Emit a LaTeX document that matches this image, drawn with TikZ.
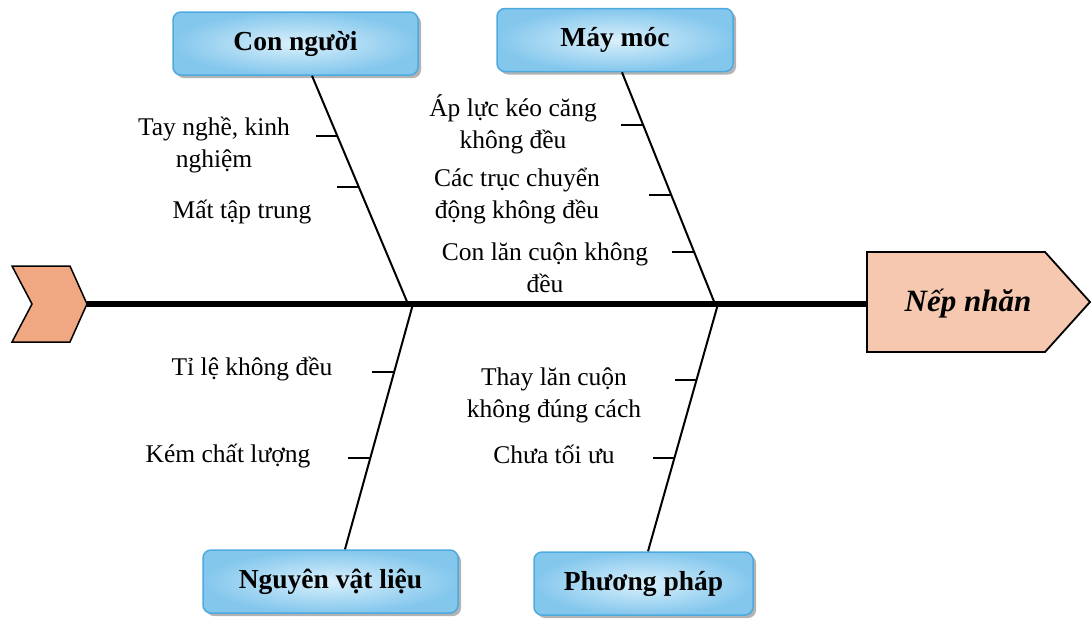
\documentclass[tikz,border=0pt]{standalone}
\usepackage{fontspec}
\setmainfont{Liberation Serif}
\usetikzlibrary{calc,shadows}

\definecolor{boxedge}{RGB}{78,170,222}
\definecolor{boxin}{RGB}{218,240,251}
\definecolor{boxout}{RGB}{132,199,237}
\definecolor{tailfill}{RGB}{240,168,130}
\definecolor{headfill}{RGB}{246,200,176}

\begin{document}
\begin{tikzpicture}[x=1pt,y=-1pt,
  catbox/.style={rounded corners=8pt, draw=boxedge, line width=1.5pt,
    inner color=boxin, outer color=boxout, minimum height=63pt,
    font=\fontsize{27.5}{30}\selectfont\bfseries,
    drop shadow={shadow xshift=3pt,shadow yshift=-3pt,fill=black!50,opacity=.6}},
  bone/.style={line width=2pt},
  tick/.style={line width=2pt},
  spine/.style={line width=6pt},
  cause/.style={font=\fontsize{25.5}{31.5}\selectfont, align=center, inner sep=0pt, anchor=base},
]
\useasboundingbox (0,0) rectangle (1092,619);

% category boxes
\node[catbox, minimum width=245pt] (people)   at (295.5,43.5)  {Con người};
\node[catbox, minimum width=236pt] (machine)  at (615,40)      {Máy móc};
\node[catbox, minimum width=255pt] (material) at (330.5,581.5) {Nguyên vật liệu};
\node[catbox, minimum width=219pt] (method)   at (643.5,583.5) {Phương pháp};

% tail chevron and effect head
\filldraw[fill=tailfill, line width=1.5pt] (12,266) -- (70,266) -- (87,304) -- (70,342) -- (12,342) -- (32,304) -- cycle;
\coordinate (tail) at (87,304);
\filldraw[fill=headfill, line width=1.8pt] (867,252) -- (1045,252) -- (1090,302) -- (1045,352) -- (867,352) -- cycle;
\coordinate (headwest) at (867,304);
\node[font=\fontsize{31}{34}\selectfont\bfseries\itshape, inner sep=0pt] (effect) at (968,304) {Nếp nhăn};

% spine
\draw[spine] (tail) -- (headwest);

% junctions on the spine
\coordinate (j1) at (408,304);
\coordinate (j2) at (715,304);
\coordinate (j3) at (413,304);
\coordinate (j4) at (718,304);

% main bones with sub-cause points
\draw[bone] ($(people.south)+(16.5,0)$) -- (j1) coordinate[pos=.266] (p1) coordinate[pos=.489] (p2);
\draw[bone] ($(machine.south)+(7,0)$) -- (j2) coordinate[pos=.228] (m1) coordinate[pos=.530] (m2) coordinate[pos=.776] (m3);
\draw[bone] (j3) -- ($(material.north)+(14.5,0)$) coordinate[pos=.276] (v1) coordinate[pos=.626] (v2);
\draw[bone] (j4) -- ($(method.north)+(4.5,0)$) coordinate[pos=.306] (f1) coordinate[pos=.621] (f2);

% sub-cause ticks
\foreach \p in {p1,p2,m1,m2,m3,v1,v2,f1,f2}
  \draw[tick] (\p) -- ++(-22,0) coordinate (\p-end);

% sub-cause labels (base anchor sits on the last line)
\node[cause] (c11) at (214,167) {Tay nghề, kinh\\nghiệm};
\node[cause] (c12) at (242,218) {Mất tập trung};
\node[cause] (c21) at (513,148) {Áp lực kéo căng\\không đều};
\node[cause] (c22) at (517,218) {Các trục chuyển\\động không đều};
\node[cause] (c23) at (545,292) {Con lăn cuộn không\\đều};
\node[cause] (c31) at (252,375) {Tỉ lệ không đều};
\node[cause] (c32) at (228,462) {Kém chất lượng};
\node[cause] (c41) at (554,417) {Thay lăn cuộn\\không đúng cách};
\node[cause] (c42) at (554,463) {Chưa tối ưu};
\end{tikzpicture}
\end{document}
